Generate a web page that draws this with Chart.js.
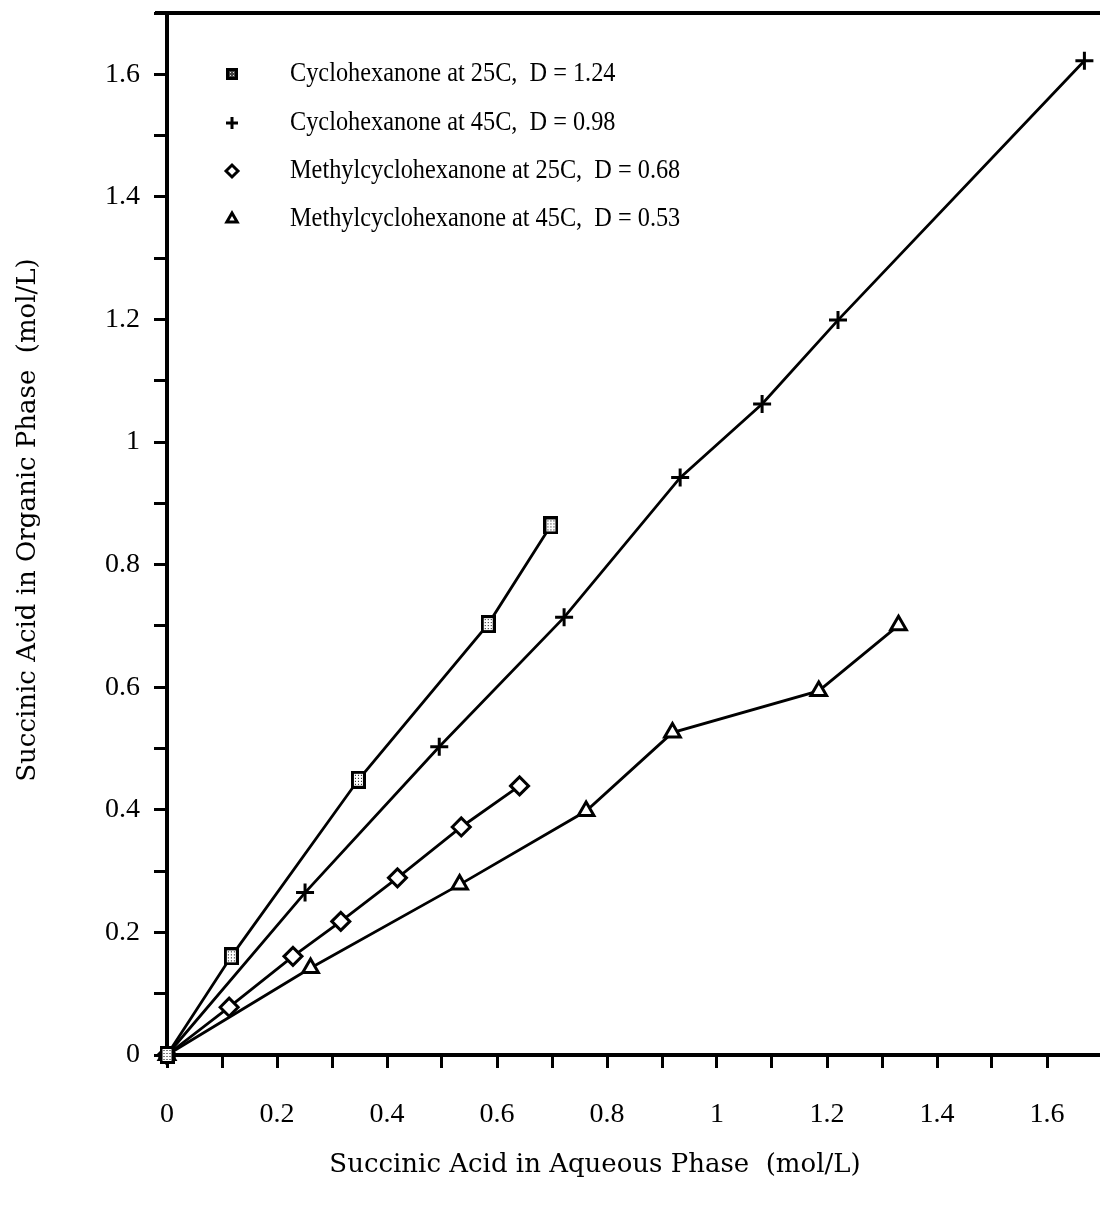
<!DOCTYPE html>
<html><head><meta charset="utf-8">
<script src="https://cdn.jsdelivr.net/npm/chart.js@4/dist/chart.umd.min.js"></script>
<style>html,body{margin:0;padding:0;background:#fff;overflow:hidden}#wrap{width:1114px;height:1208px;position:relative}</style>
</head><body><div id="wrap"><canvas id="c"></canvas></div>
<script>
const seriesLabels = [
  'Cyclohexanone at 25C,  D = 1.24',
  'Cyclohexanone at 45C,  D = 0.98',
  'Methylcyclohexanone at 25C,  D = 0.68',
  'Methylcyclohexanone at 45C,  D = 0.53'
];
const cyc25X = [0, 0.117, 0.348, 0.584, 0.698];
const cyc25Y = [0, 0.161, 0.449, 0.703, 0.864];
const cyc45X = [0, 0.251, 0.495, 0.722, 0.933, 1.082, 1.220, 1.668];
const cyc45Y = [0, 0.265, 0.503, 0.714, 0.942, 1.062, 1.199, 1.622];
const mcy25X = [0, 0.113, 0.229, 0.316, 0.419, 0.535, 0.641];
const mcy25Y = [0, 0.078, 0.161, 0.218, 0.289, 0.372, 0.439];
const mcy45X = [0, 0.261, 0.532, 0.762, 0.919, 1.185, 1.330];
const mcy45Y = [0, 0.142, 0.278, 0.398, 0.526, 0.594, 0.701];
const xTitle = 'Succinic Acid in Aqueous Phase  (mol/L)';
const yTitle = 'Succinic Acid in Organic Phase  (mol/L)';

function pts(xs, ys){ return xs.map((x,i)=>({x:x, y:ys[i]})); }

function makeSquare(w, h, dark){
  const c = document.createElement('canvas');
  c.width = w; c.height = h;
  const g = c.getContext('2d');
  g.fillStyle = '#000'; g.fillRect(0,0,w,h);
  g.fillStyle = dark ? '#444' : '#fff';
  g.fillRect(3,3,w-6,h-6);
  g.fillStyle = dark ? '#ddd' : '#000';
  for (let yy=4; yy<h-4; yy+=3) for (let xx=4; xx<w-4; xx+=3) g.fillRect(xx,yy,1,1);
  return c;
}
const sqBig = makeSquare(15, 18, false);
const sqSmall = makeSquare(12, 12, true);

const SERIF = "'Liberation Serif', serif";
const WIDE = "'DejaVu Serif', serif";

const common = {borderColor:'#000', backgroundColor:'#fff', borderWidth:2.8, pointBorderColor:'#000', pointBackgroundColor:'#fff', pointBorderWidth:2.5, showLine:true, tension:0, clip:false};
const datasets = [
  Object.assign({}, common, {label: seriesLabels[0], data: pts(cyc25X, cyc25Y), pointStyle: sqBig, pointRadius: 9}),
  Object.assign({}, common, {label: seriesLabels[1], data: pts(cyc45X, cyc45Y), pointStyle: 'cross', pointRadius: 9, pointBorderWidth: 3}),
  Object.assign({}, common, {label: seriesLabels[2], data: pts(mcy25X, mcy25Y), pointStyle: 'rectRot', pointRadius: 9, pointBorderWidth: 3}),
  Object.assign({}, common, {label: seriesLabels[3], data: pts(mcy45X, mcy45Y), pointStyle: 'triangle', pointRadius: 9, pointBorderWidth: 3})
];
const legendStyles = [sqSmall, 'cross', 'rectRot', 'triangle'];

const overlay = {
  id: 'overlay',
  afterDraw(chart){
    const ctx = chart.ctx, a = chart.chartArea;
    ctx.save();
    ctx.strokeStyle = '#000'; ctx.lineWidth = 4;
    ctx.beginPath(); ctx.moveTo(a.left - 12, a.top); ctx.lineTo(a.right, a.top); ctx.stroke();
    const rowsY = [74, 123, 171, 219];
    chart.data.datasets.forEach((ds, i) => {
      const st = legendStyles[i];
      ctx.fillStyle = '#fff'; ctx.strokeStyle = '#000'; ctx.lineWidth = 3;
      Chart.helpers.drawPoint(ctx, {pointStyle: st, radius: 6, borderWidth: 3, rotation: 0}, 232, rowsY[i]);
      ctx.save();
      ctx.fillStyle = '#000';
      ctx.font = "27px " + SERIF;
      ctx.textBaseline = 'middle'; ctx.textAlign = 'left';
      ctx.translate(290, rowsY[i]); ctx.scale(0.9, 1);
      ctx.fillText(ds.label, 0, 0);
      ctx.restore();
    });
    ctx.fillStyle = '#000';
    ctx.font = "26px " + WIDE;
    ctx.textBaseline = 'middle'; ctx.textAlign = 'center';
    ctx.fillText(xTitle, 595, 1165);
    ctx.translate(28, 520); ctx.rotate(-Math.PI/2);
    ctx.fillText(yTitle, 0, 0);
    ctx.restore();
  }
};

function tickCb(v){
  const k = Math.round(v*10);
  if (k % 2 !== 0) return '';
  return String(Math.round(v*10)/10);
}

new Chart(document.getElementById('c'), {
  type: 'scatter',
  data: {datasets: datasets},
  options: {
    responsive: true, maintainAspectRatio: false, animation: false, devicePixelRatio: 1,
    layout: {padding: {top: 13, right: 0, bottom: 0, left: 0}},
    plugins: {legend: {display: false}, tooltip: {enabled: false}},
    scales: {
      x: {
        type: 'linear', min: 0, max: 1.7,
        afterFit(s){ s.height = 153; s.paddingLeft = 0; s.paddingRight = 0; },
        border: {display: true, color: '#000', width: 4},
        grid: {display: true, drawOnChartArea: false, drawTicks: true, tickLength: 13, color: '#000', lineWidth: 3},
        ticks: {stepSize: 0.1, autoSkip: false, maxRotation: 0, padding: 30, color: '#000', font: {family: SERIF, size: 28}, callback: tickCb}
      },
      y: {
        type: 'linear', min: 0, max: 1.7,
        afterFit(s){ s.width = 167; s.paddingTop = 0; s.paddingBottom = 0; },
        border: {display: true, color: '#000', width: 4},
        grid: {display: true, drawOnChartArea: false, drawTicks: true, tickLength: 13, color: '#000', lineWidth: 3},
        ticks: {stepSize: 0.1, autoSkip: false, padding: 14, color: '#000', font: {family: SERIF, size: 28}, callback: tickCb}
      }
    }
  },
  plugins: [overlay]
});
</script>
</body></html>
